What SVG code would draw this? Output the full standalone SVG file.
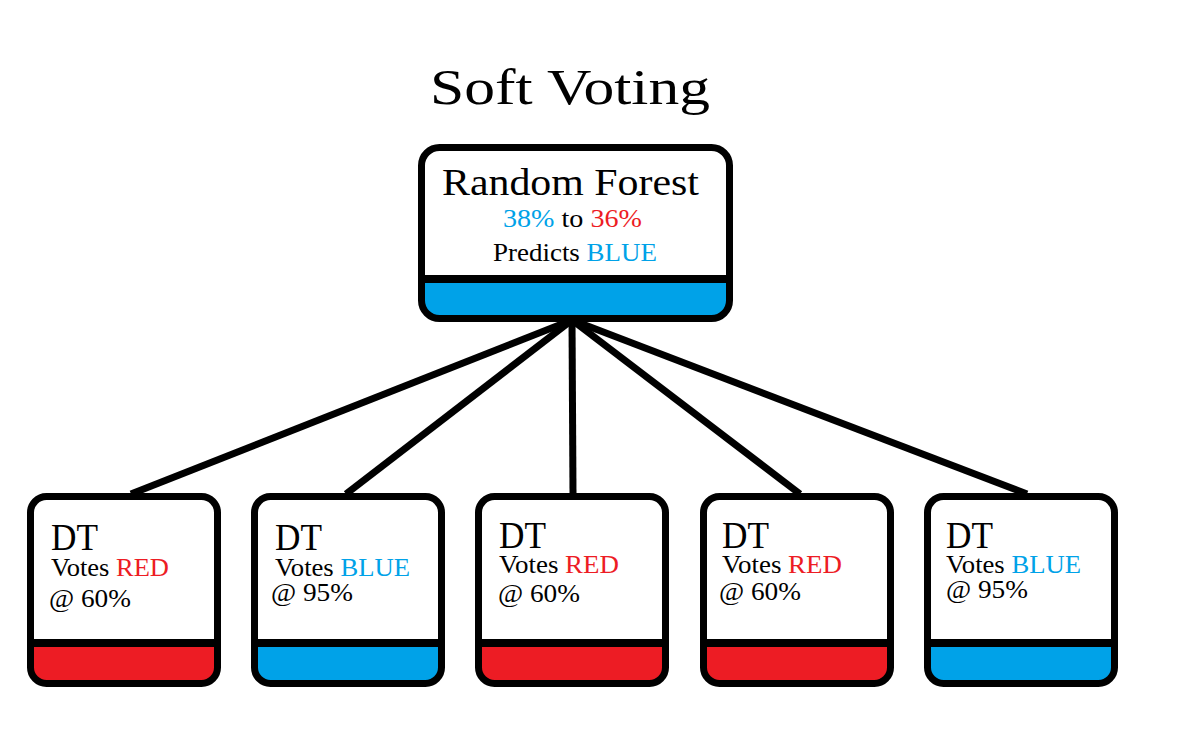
<svg xmlns="http://www.w3.org/2000/svg" width="1189" height="737" viewBox="0 0 1189 737">
<style>
.t{font-family:"Liberation Serif","DejaVu Serif",serif;fill:#000}
.b{fill:#00A2E8}
.r{fill:#ED1C24}
.out{fill:none;stroke:#000;stroke-width:7}
.div{stroke:#000;stroke-width:8}
.con{stroke:#000;stroke-width:7;stroke-linecap:butt}
.dt{font-size:38px}
.v{font-size:25px}
</style>
<rect width="1189" height="737" fill="#fff"/>
<text class="t" x="430" y="104" font-size="50" textLength="280" lengthAdjust="spacingAndGlyphs">Soft Voting</text>
<g id="connectors">
<line class="con" x1="572" y1="320" x2="131" y2="494"/>
<line class="con" x1="572" y1="320" x2="346" y2="494"/>
<line class="con" x1="572" y1="320" x2="573" y2="494"/>
<line class="con" x1="572" y1="320" x2="800" y2="494"/>
<line class="con" x1="572" y1="320" x2="1027" y2="494"/>
</g>
<g id="rf">
<rect x="421.5" y="147.5" width="308" height="171" rx="18" class="b"/>
<rect x="421.5" y="147.5" width="308" height="132" fill="#fff"/>
<rect x="421.5" y="147.5" width="308" height="171" rx="18" class="out"/>
<line class="div" x1="421.5" y1="279" x2="729.5" y2="279"/>
<text class="t" x="442" y="195" font-size="38" textLength="257" lengthAdjust="spacingAndGlyphs">Random Forest</text>
<text class="t" x="503" y="227" font-size="26" textLength="139" lengthAdjust="spacingAndGlyphs"><tspan class="b">38%</tspan> to <tspan class="r">36%</tspan></text>
<text class="t" x="493" y="261" font-size="26" textLength="164" lengthAdjust="spacingAndGlyphs">Predicts <tspan class="b">BLUE</tspan></text>
</g>
<g id="dt1">
<rect x="30.5" y="496.5" width="187" height="187" rx="16" class="r"/>
<rect x="30.5" y="496.5" width="187" height="147" fill="#fff"/>
<rect x="30.5" y="496.5" width="187" height="187" rx="16" class="out"/>
<line class="div" x1="30.5" y1="643" x2="217.5" y2="643"/>
<text class="t dt" x="51" y="550" textLength="47" lengthAdjust="spacingAndGlyphs">DT</text>
<text class="t v" x="51" y="576" textLength="118" lengthAdjust="spacingAndGlyphs">Votes <tspan class="r">RED</tspan></text>
<text class="t v" x="49" y="607" textLength="82" lengthAdjust="spacingAndGlyphs">@ 60%</text>
</g>
<g id="dt2">
<rect x="254.5" y="496.5" width="187" height="187" rx="16" class="b"/>
<rect x="254.5" y="496.5" width="187" height="147" fill="#fff"/>
<rect x="254.5" y="496.5" width="187" height="187" rx="16" class="out"/>
<line class="div" x1="254.5" y1="643" x2="441.5" y2="643"/>
<text class="t dt" x="275" y="550" textLength="47" lengthAdjust="spacingAndGlyphs">DT</text>
<text class="t v" x="275" y="576" textLength="135" lengthAdjust="spacingAndGlyphs">Votes <tspan class="b">BLUE</tspan></text>
<text class="t v" x="271" y="601" textLength="82" lengthAdjust="spacingAndGlyphs">@ 95%</text>
</g>
<g id="dt3">
<rect x="478.5" y="496.5" width="187" height="187" rx="16" class="r"/>
<rect x="478.5" y="496.5" width="187" height="147" fill="#fff"/>
<rect x="478.5" y="496.5" width="187" height="187" rx="16" class="out"/>
<line class="div" x1="478.5" y1="643" x2="665.5" y2="643"/>
<text class="t dt" x="499" y="548" textLength="47" lengthAdjust="spacingAndGlyphs">DT</text>
<text class="t v" x="499" y="573" textLength="120" lengthAdjust="spacingAndGlyphs">Votes <tspan class="r">RED</tspan></text>
<text class="t v" x="498" y="602" textLength="82" lengthAdjust="spacingAndGlyphs">@ 60%</text>
</g>
<g id="dt4">
<rect x="703.5" y="496.5" width="187" height="187" rx="16" class="r"/>
<rect x="703.5" y="496.5" width="187" height="147" fill="#fff"/>
<rect x="703.5" y="496.5" width="187" height="187" rx="16" class="out"/>
<line class="div" x1="703.5" y1="643" x2="890.5" y2="643"/>
<text class="t dt" x="722" y="548" textLength="47" lengthAdjust="spacingAndGlyphs">DT</text>
<text class="t v" x="722" y="573" textLength="120" lengthAdjust="spacingAndGlyphs">Votes <tspan class="r">RED</tspan></text>
<text class="t v" x="719" y="600" textLength="82" lengthAdjust="spacingAndGlyphs">@ 60%</text>
</g>
<g id="dt5">
<rect x="927.5" y="496.5" width="187" height="187" rx="16" class="b"/>
<rect x="927.5" y="496.5" width="187" height="147" fill="#fff"/>
<rect x="927.5" y="496.5" width="187" height="187" rx="16" class="out"/>
<line class="div" x1="927.5" y1="643" x2="1114.5" y2="643"/>
<text class="t dt" x="946" y="548" textLength="47" lengthAdjust="spacingAndGlyphs">DT</text>
<text class="t v" x="946" y="573" textLength="135" lengthAdjust="spacingAndGlyphs">Votes <tspan class="b">BLUE</tspan></text>
<text class="t v" x="946" y="598" textLength="82" lengthAdjust="spacingAndGlyphs">@ 95%</text>
</g>
</svg>
